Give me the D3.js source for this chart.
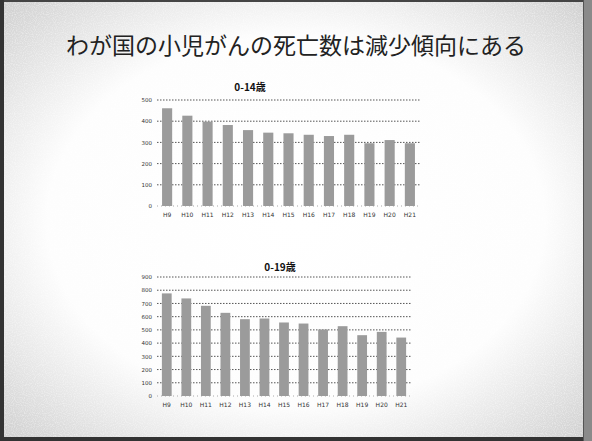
<!DOCTYPE html>
<html>
<head>
<meta charset="utf-8">
<script src="https://cdn.jsdelivr.net/npm/d3@7"></script>
<style>
  body { margin: 0; background: #fff; }
  svg { display: block; }
</style>
</head>
<body>
<div id="slide"></div>
<script>
// data
var years = ["H9","H10","H11","H12","H13","H14","H15","H16","H17","H18","H19","H20","H21"];
var deaths_0_14 = [461, 426, 398, 382, 358, 346, 343, 336, 330, 336, 296, 311, 296];
var deaths_0_19 = [776, 738, 682, 629, 581, 586, 556, 548, 503, 528, 460, 485, 442];
var ticks_0_14 = [0, 100, 200, 300, 400, 500];
var ticks_0_19 = [0, 100, 200, 300, 400, 500, 600, 700, 800, 900];

var width = 592, height = 441;

var svg = d3.select("#slide").append("svg")
    .attr("width", width)
    .attr("height", height);

var defs = svg.append("defs");

// whitish centre fading to grey speckle at the edges
var grad = defs.append("radialGradient")
    .attr("id", "bg")
    .attr("cx", "50%").attr("cy", "50%").attr("r", "70%");
grad.append("stop").attr("offset", "0%").attr("stop-color", "#ffffff");
grad.append("stop").attr("offset", "60%").attr("stop-color", "#fdfdfd");
grad.append("stop").attr("offset", "100%").attr("stop-color", "#cfcfcf");

var noise = defs.append("filter").attr("id", "speckle")
    .attr("x", 0).attr("y", 0).attr("width", "100%").attr("height", "100%");
noise.append("feTurbulence")
    .attr("type", "fractalNoise").attr("baseFrequency", 0.9)
    .attr("numOctaves", 1).attr("seed", 3).attr("result", "n");
noise.append("feColorMatrix")
    .attr("in", "n").attr("type", "matrix")
    .attr("values", "0 0 0 0 1  0 0 0 0 1  0 0 0 0 1  0 0 0 -2.2 1.25")
    .attr("result", "w");
noise.append("feComposite").attr("in", "w").attr("in2", "SourceGraphic").attr("operator", "in");

svg.append("rect")
    .attr("width", width).attr("height", height)
    .attr("fill", "url(#bg)");
svg.append("rect")
    .attr("width", width).attr("height", height)
    .attr("fill", "url(#bg)")
    .attr("filter", "url(#speckle)")
    .attr("opacity", 0.5);

// frame
svg.append("rect").attr("x", 0).attr("y", 0).attr("width", width).attr("height", 2).attr("fill", "#444");
svg.append("rect").attr("x", 0).attr("y", 0).attr("width", 4).attr("height", height).attr("fill", "#333");
svg.append("rect").attr("x", 0).attr("y", 437).attr("width", width).attr("height", 4).attr("fill", "#333");
svg.append("rect").attr("x", 584).attr("y", 0).attr("width", 8).attr("height", height).attr("fill", "#8a8a8a");
svg.append("rect").attr("x", 583).attr("y", 0).attr("width", 1).attr("height", height).attr("fill", "#555");

// headline
svg.append("text")
    .attr("x", 296).attr("y", 54)
    .attr("text-anchor", "middle")
    .attr("font-family", "'Noto Sans CJK JP', sans-serif")
    .attr("font-size", 23)
    .attr("fill", "#222")
    .text("わが国の小児がんの死亡数は減少傾向にある");

function drawChart(opt) {
    var g = svg.append("g");

    var x = d3.scaleBand()
        .domain(years)
        .range([opt.left, opt.right])
        .paddingInner(0.5)
        .paddingOuter(0.25);

    var y = d3.scaleLinear()
        .domain([0, opt.max])
        .range([opt.bottom, opt.top]);

    // dotted gridlines
    g.selectAll(".grid")
        .data(opt.ticks.filter(function(d){ return d > 0; }))
        .enter().append("line")
        .attr("x1", opt.left).attr("x2", opt.right)
        .attr("y1", function(d){ return y(d); })
        .attr("y2", function(d){ return y(d); })
        .attr("stroke", "#555")
        .attr("stroke-width", 1)
        .attr("stroke-dasharray", "1.5,1.5");

    g.append("line")
        .attr("x1", opt.left).attr("x2", opt.right)
        .attr("y1", opt.bottom).attr("y2", opt.bottom)
        .attr("stroke", "#aaa").attr("stroke-dasharray", "1,3");

    g.selectAll(".bar")
        .data(opt.values)
        .enter().append("rect")
        .attr("x", function(d, i){ return x(years[i]); })
        .attr("y", function(d){ return y(d); })
        .attr("width", x.bandwidth())
        .attr("height", function(d){ return opt.bottom - y(d); })
        .attr("fill", "#9b9b9b");

    // axes
    var yAxis = d3.axisLeft(y).tickValues(opt.ticks).tickSize(0).tickPadding(5);
    var ya = g.append("g")
        .attr("transform", "translate(" + opt.left + ",0)")
        .call(yAxis);
    ya.select(".domain").remove();
    ya.selectAll("text")
        .attr("font-family", "'DejaVu Sans', sans-serif")
        .attr("font-size", 5.5)
        .attr("fill", "#333");

    var xAxis = d3.axisBottom(x).tickSize(0).tickPadding(7);
    var xa = g.append("g")
        .attr("transform", "translate(0," + opt.bottom + ")")
        .call(xAxis);
    xa.select(".domain").remove();
    xa.selectAll("text")
        .attr("font-family", "'DejaVu Sans', sans-serif")
        .attr("font-size", 6)
        .attr("fill", "#333");

    g.append("text")
        .attr("x", opt.titleX).attr("y", opt.titleY)
        .attr("text-anchor", "middle")
        .attr("font-family", "'Noto Sans CJK JP', sans-serif")
        .attr("font-weight", "bold")
        .attr("font-size", 10)
        .attr("fill", "#111")
        .text(opt.title);
}

drawChart({
    title: "0-14歳", titleX: 250, titleY: 91,
    values: deaths_0_14, ticks: ticks_0_14, max: 500,
    left: 157, right: 420, top: 100, bottom: 206
});

drawChart({
    title: "0-19歳", titleX: 280, titleY: 271,
    values: deaths_0_19, ticks: ticks_0_19, max: 900,
    left: 157, right: 411, top: 277, bottom: 396
});
</script>
</body>
</html>
